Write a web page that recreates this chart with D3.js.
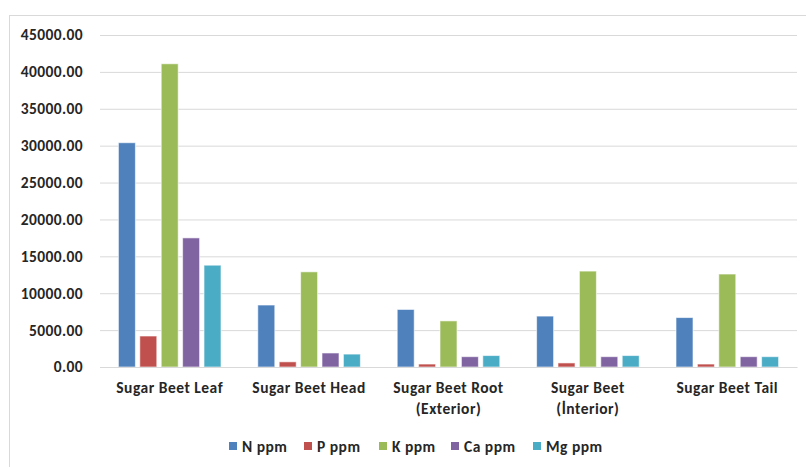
<!DOCTYPE html>
<html>
<head>
<meta charset="utf-8">
<script src="https://cdn.jsdelivr.net/npm/d3@7/dist/d3.min.js"></script>
<style>
  html, body { margin: 0; padding: 0; background: #fff; }
  svg { display: block; }
  text { font-family: Carlito, Lato, "Open Sans", sans-serif; font-weight: bold; fill: #262626; }
</style>
</head>
<body>
<svg id="chart" width="806" height="467"></svg>
<script>
// Nutrient content of sugar beet parts (ppm)
const categories = [
  ["Sugar Beet Leaf"],
  ["Sugar Beet Head"],
  ["Sugar Beet Root", "(Exterior)"],
  ["Sugar Beet", "(İnterior)"],
  ["Sugar Beet Tail"]
];
const seriesNames = ["N ppm", "P ppm", "K ppm", "Ca ppm", "Mg ppm"];
const nValues  = [30400, 8400, 7800, 6900, 6700];
const pValues  = [4200, 700, 400, 550, 400];
const kValues  = [41100, 12900, 6250, 13000, 12600];
const caValues = [17500, 1900, 1400, 1400, 1400];
const mgValues = [13800, 1750, 1550, 1550, 1400];
const yTicks = [0, 5000, 10000, 15000, 20000, 25000, 30000, 35000, 40000, 45000];

const colors = ["#4F81BD", "#C0504D", "#9BBB59", "#8064A2", "#4BACC6"];
const seriesValues = [nValues, pValues, kValues, caValues, mgValues];

const svg = d3.select("#chart");

// outer chart frame
svg.append("rect")
  .attr("x", 9.5).attr("y", 15.5)
  .attr("width", 820).attr("height", 480)
  .attr("fill", "#fff").attr("stroke", "#d9d9d9").attr("stroke-width", 1);

const plot = { left: 100, right: 797, top: 35, bottom: 367 };

// one band per category, bars clustered around the band centre
const x0 = d3.scaleBand()
  .domain(d3.range(categories.length))
  .range([plot.left, plot.right]);

const clusterWidth = 107;
const x1 = d3.scaleBand()
  .domain(d3.range(seriesNames.length))
  .range([(x0.bandwidth() - clusterWidth) / 2, (x0.bandwidth() + clusterWidth) / 2])
  .paddingInner(0.206).paddingOuter(0.103);

const y = d3.scaleLinear().domain([0, 45000]).range([plot.bottom, plot.top]);

// gridlines and value axis labels
const yAxis = d3.axisLeft(y)
  .tickValues(yTicks)
  .tickSize(-(plot.right - plot.left))
  .tickPadding(17)
  .tickFormat(d => d3.format(".2f")(d));

const yg = svg.append("g")
  .attr("transform", `translate(${plot.left},0)`)
  .call(yAxis);
yg.select(".domain").remove();
yg.selectAll(".tick line").attr("stroke", "#d9d9d9").attr("stroke-width", 1);
yg.selectAll(".tick text")
  .attr("font-size", 15.5)
  .attr("letter-spacing", 0.4)
  .style("fill", "#262626");

// bars
const groups = svg.append("g").selectAll("g")
  .data(categories)
  .join("g")
  .attr("transform", (d, i) => `translate(${x0(i)},0)`);

groups.selectAll("rect")
  .data((d, i) => seriesValues.map((vals, s) => ({ s, v: vals[i] })))
  .join("rect")
  .attr("x", d => x1(d.s))
  .attr("y", d => y(d.v))
  .attr("width", x1.bandwidth())
  .attr("height", d => y(0) - y(d.v))
  .attr("fill", d => colors[d.s])
  .attr("stroke", "#ffffff")
  .attr("stroke-opacity", 0.6)
  .attr("stroke-width", 1);

// category axis line
const xg = svg.append("g")
  .attr("transform", `translate(${plot.left},${plot.bottom})`)
  .call(d3.axisBottom(d3.scaleBand().domain(d3.range(categories.length)).range([0, plot.right - plot.left]))
    .tickSize(0).tickFormat(""));
xg.select(".domain").attr("stroke", "#d9d9d9");

// category labels
const catLabels = svg.append("g").selectAll("text")
  .data(categories)
  .join("text")
  .attr("text-anchor", "middle")
  .attr("font-size", 15.5)
  .attr("letter-spacing", 0.5)
  .attr("x", (d, i) => x0(i) + x0.bandwidth() / 2)
  .attr("y", 393);
catLabels.selectAll("tspan")
  .data(d => d)
  .join("tspan")
  .attr("x", function () { return d3.select(this.parentNode).attr("x"); })
  .attr("dy", (d, j) => j === 0 ? 0 : 21)
  .text(d => d);

// legend
const legendX = [229, 304, 379, 451, 533];
const legend = svg.append("g").selectAll("g")
  .data(seriesNames)
  .join("g")
  .attr("transform", (d, i) => `translate(${legendX[i]},442)`);
legend.append("rect")
  .attr("width", 8).attr("height", 8)
  .attr("fill", (d, i) => colors[i]);
legend.append("text")
  .attr("x", 13).attr("y", 9.5)
  .attr("font-size", 15.5)
  .attr("letter-spacing", 0.5)
  .text(d => d);
</script>
</body>
</html>
